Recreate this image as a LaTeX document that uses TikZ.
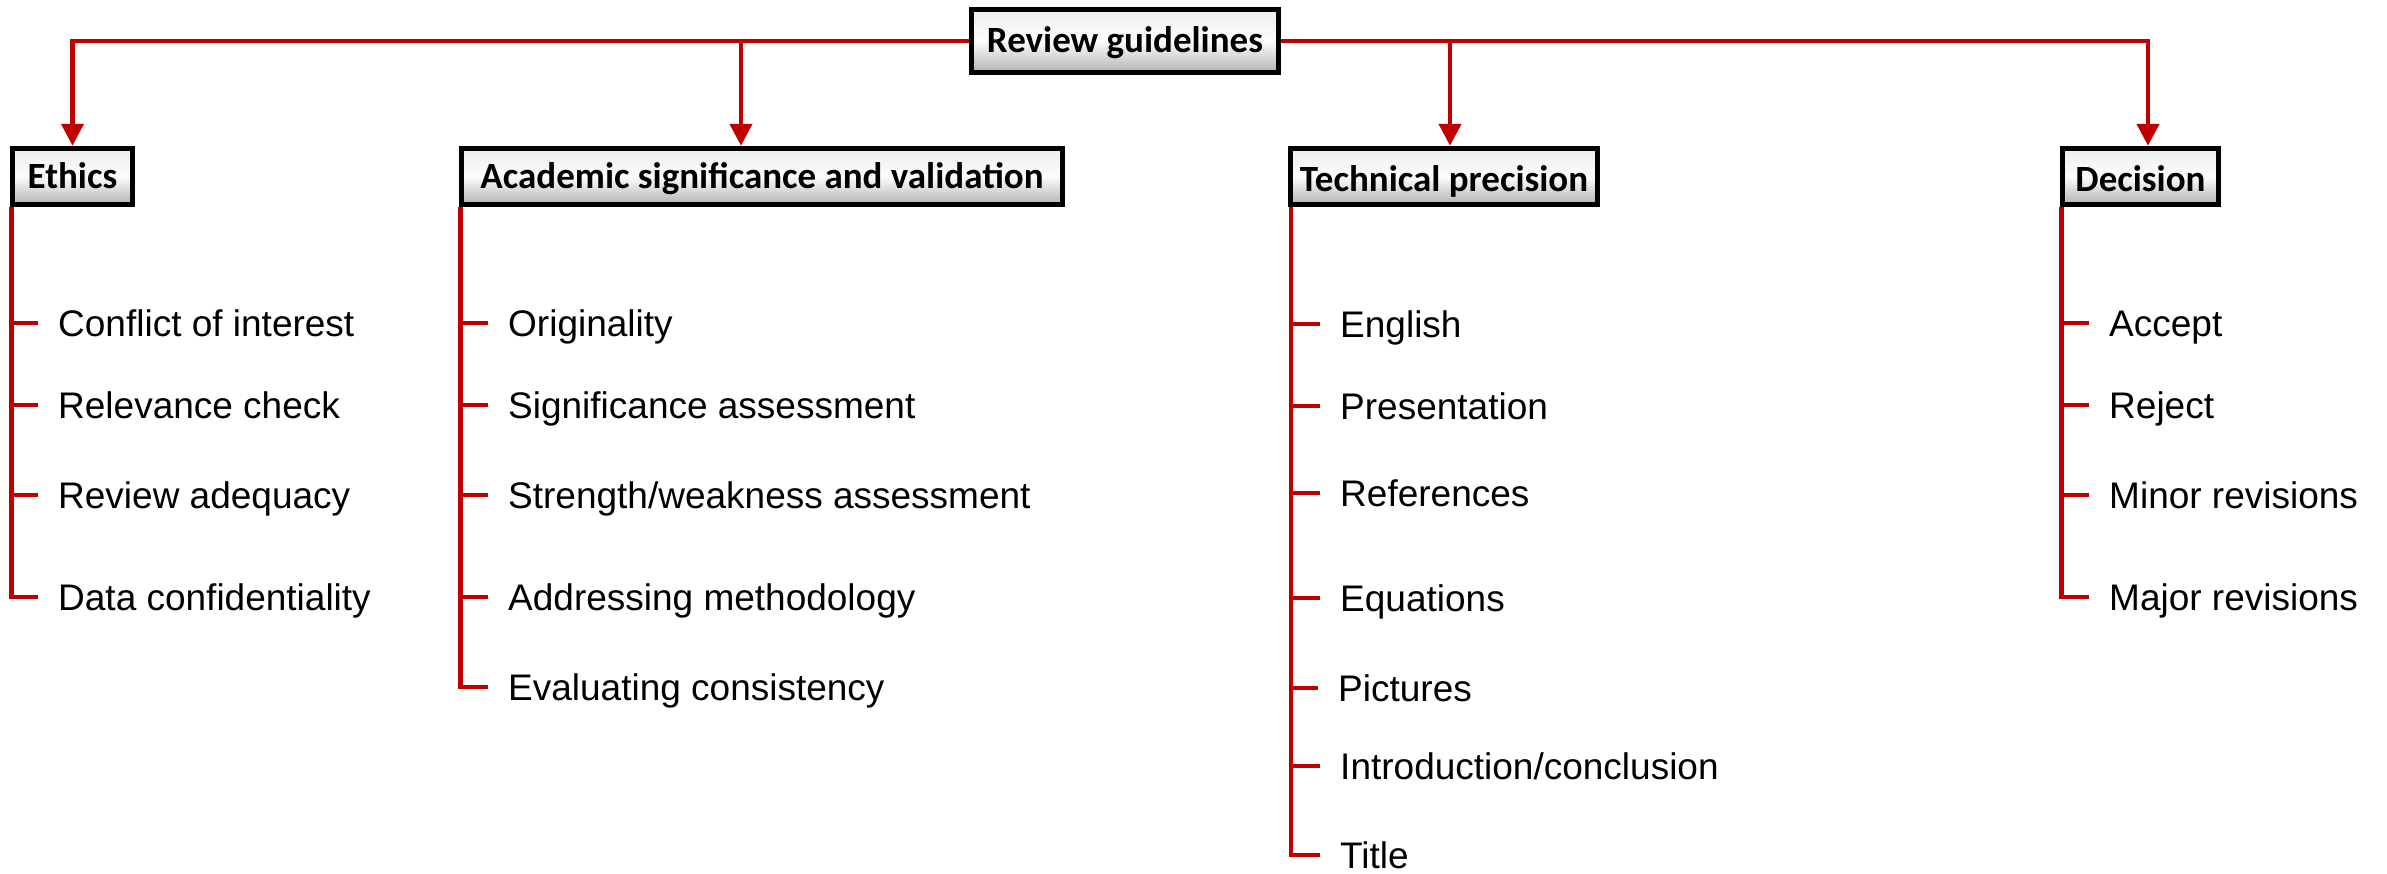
\documentclass[tikz,border=0pt]{standalone}
\usepackage{fontspec}
\setmainfont{Liberation Sans}
\newfontfamily\headfont{Carlito}
\usetikzlibrary{arrows.meta}
\definecolor{branchred}{HTML}{C00000}

\begin{document}
\begin{tikzpicture}[x=1pt, y=-1pt,
    head/.style={draw=black, line width=5.5pt, top color=gray!14, bottom color=gray!60, middle color=gray!2,
        inner sep=0pt, minimum height=56pt, text height=30pt, text depth=6pt,
        font=\headfont\bfseries\fontsize{37}{44}\selectfont},
    item/.style={anchor=west, inner sep=0pt, text height=27pt, text depth=0pt,
        font=\fontsize{37}{44}\selectfont},
    branch/.style={draw=branchred, line width=4.5pt},
    down/.style={branch, -{Triangle[width=22pt, length=22pt]}}]
    \useasboundingbox (0,0) rectangle (2387,873);

    \node[head, minimum width=307pt, minimum height=63pt, text height=28pt] (root) at (1125, 41) {Review guidelines};

    \node[head, minimum width=120pt] (eth) at (72.5, 176.5) {Ethics};
    \node[head, minimum width=601pt] (acad) at (762, 176.5) {Academic significance and validation};
    \node[head, minimum width=307pt, text depth=0pt] (tech) at (1444, 176.5) {Technical precision};
    \node[head, minimum width=156pt, text depth=0pt] (dec) at (2140.5, 176.5) {Decision};

    \draw[down] (root.west) -| (eth.north);
    \draw[down] (root.west) -| ([xshift=-21pt]acad.north);
    \draw[down] (root.east) -| ([xshift=6pt]tech.north);
    \draw[down] (root.east) -| ([xshift=7.5pt]dec.north);

    \node[item] (e1) at (58, 323) {Conflict of interest};
    \node[item] (e2) at (58, 405) {Relevance check};
    \node[item] (e3) at (58, 495) {Review adequacy};
    \node[item] (e4) at (58, 597) {Data confidentiality};

    \node[item] (a1) at (508, 323) {Originality};
    \node[item] (a2) at (508, 405) {Significance assessment};
    \node[item] (a3) at (508, 495) {Strength/weakness assessment};
    \node[item] (a4) at (508, 597) {Addressing methodology};
    \node[item] (a5) at (508, 687) {Evaluating consistency};

    \node[item] (t1) at (1340, 324) {English};
    \node[item] (t2) at (1340, 406) {Presentation};
    \node[item] (t3) at (1340, 493) {References};
    \node[item] (t4) at (1340, 598) {Equations};
    \node[item] (t5) at (1338, 688) {Pictures};
    \node[item] (t6) at (1340, 766) {Introduction/conclusion};
    \node[item] (t7) at (1340, 855) {Title};

    \node[item] (d1) at (2109, 323) {Accept};
    \node[item] (d2) at (2109, 405) {Reject};
    \node[item] (d3) at (2109, 495) {Minor revisions};
    \node[item] (d4) at (2109, 597) {Major revisions};

    \foreach \n in {e1,e2,e3,e4}
        \draw[branch] ([xshift=1.5pt]eth.south west) |- ([xshift=-20pt]\n.west);
    \foreach \n in {a1,a2,a3,a4,a5}
        \draw[branch] ([xshift=1.5pt]acad.south west) |- ([xshift=-20pt]\n.west);
    \foreach \n in {t1,t2,t3,t4,t5,t6,t7}
        \draw[branch] ([xshift=3pt]tech.south west) |- ([xshift=-20pt]\n.west);
    \foreach \n in {d1,d2,d3,d4}
        \draw[branch] ([xshift=1.5pt]dec.south west) |- ([xshift=-20pt]\n.west);
\end{tikzpicture}
\end{document}
